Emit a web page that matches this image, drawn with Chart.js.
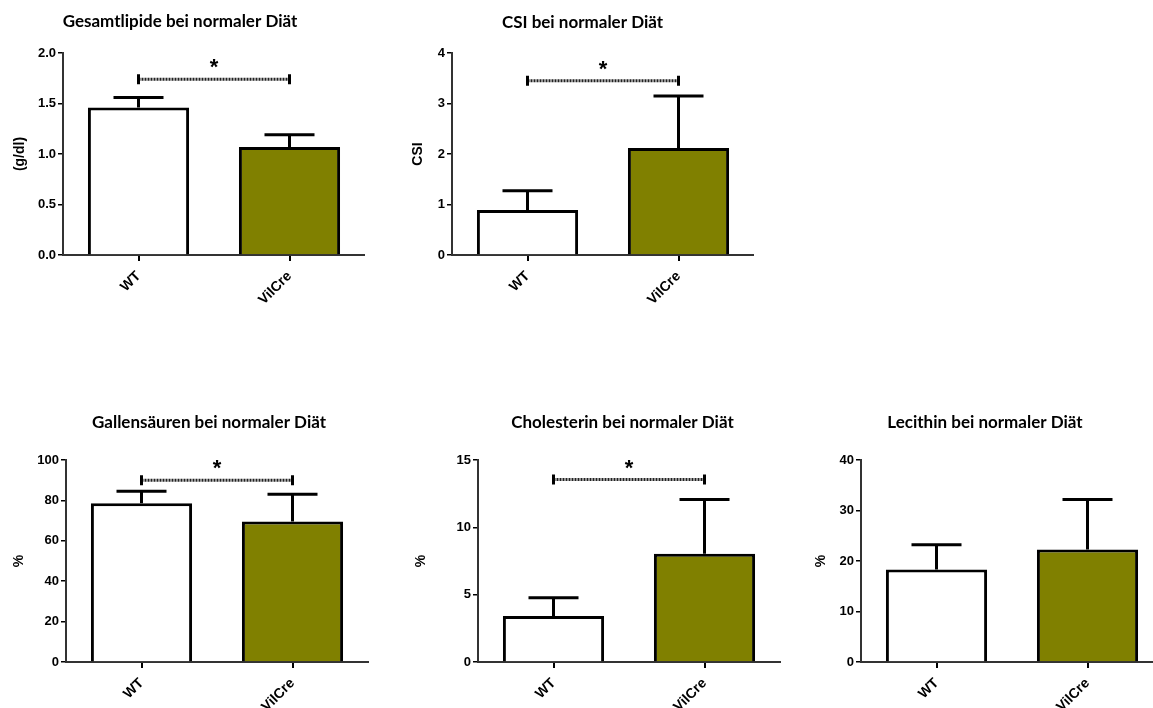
<!DOCTYPE html>
<html>
<head>
<meta charset="utf-8">
<script src="https://cdn.jsdelivr.net/npm/chart.js@4.4.1/dist/chart.umd.min.js"></script>
<style>
  html, body { margin: 0; padding: 0; background: #fff; overflow: hidden; width: 1153px; height: 708px; }
  canvas { position: absolute; }
</style>
</head>
<body>
<script>
// groups and colours shared by every panel
const groups = ['WT', 'VilCre'];
const barColors = ['#ffffff', '#808000'];

// Gesamtlipide (g/dl)
const lipidMean = [1.46, 1.07];
const lipidSem = [0.10, 0.12];
const lipidTicks = ['0.0', '0.5', '1.0', '1.5', '2.0'];
const lipidSig = 1.74;

// CSI
const csiMean = [0.89, 2.12];
const csiSem = [0.38, 1.03];
const csiTicks = ['0', '1', '2', '3', '4'];
const csiSig = 3.45;

// Gallensäuren (%)
const bileMean = [78.6, 69.5];
const bileSem = [5.9, 13.5];
const bileTicks = ['0', '20', '40', '60', '80', '100'];
const bileSig = 90;

// Cholesterin (%)
const cholMean = [3.41, 8.03];
const cholSem = [1.36, 4.03];
const cholTicks = ['0', '5', '10', '15'];
const cholSig = 13.55;

// Lecithin (%)
const lecMean = [18.3, 22.3];
const lecSem = [4.9, 9.9];
const lecTicks = ['0', '10', '20', '30', '40'];
const lecSig = null;

const tickFont = { family: '"Liberation Sans", Arial, sans-serif', size: 13, weight: 'bold' };
const groupFont = { family: '"Liberation Sans", Arial, sans-serif', size: 14, weight: 'bold' };
const axisTitleFont = { family: '"Liberation Sans", Arial, sans-serif', size: 14, weight: 'bold', lineHeight: 1.2 };

// draws the SEM whiskers and the significance bracket with the chart's scales
const errorBarPlugin = {
  id: 'errorBars',
  afterDatasetsDraw(chart, args, opts) {
    const { ctx, scales: { x, y } } = chart;
    const mean = chart.data.datasets[0].data;
    ctx.save();
    ctx.strokeStyle = '#000';
    ctx.lineWidth = 3;
    mean.forEach((m, i) => {
      const cx = x.getPixelForValue(i);
      const y0 = y.getPixelForValue(m);
      const y1 = y.getPixelForValue(m + opts.sem[i]);
      ctx.beginPath();
      ctx.moveTo(cx, y0);
      ctx.lineTo(cx, y1);
      ctx.moveTo(cx - 25, y1);
      ctx.lineTo(cx + 25, y1);
      ctx.stroke();
    });
    if (opts.sig != null) {
      const xa = x.getPixelForValue(0);
      const xb = x.getPixelForValue(1);
      const ys = y.getPixelForValue(opts.sig);
      ctx.strokeStyle = '#222';
      ctx.setLineDash([2, 1]);
      ctx.beginPath();
      ctx.moveTo(xa, ys);
      ctx.lineTo(xb, ys);
      ctx.stroke();
      ctx.setLineDash([]);
      ctx.strokeStyle = '#000';
      ctx.beginPath();
      ctx.moveTo(xa, ys - 5);
      ctx.lineTo(xa, ys + 5);
      ctx.moveTo(xb, ys - 5);
      ctx.lineTo(xb, ys + 5);
      ctx.stroke();
      ctx.fillStyle = '#000';
      ctx.font = 'bold 22px "Liberation Sans", Arial, sans-serif';
      ctx.textAlign = 'center';
      ctx.textBaseline = 'alphabetic';
      ctx.fillText('*', (xa + xb) / 2, ys - 5);
    }
    ctx.restore();
  }
};

// canvas placement for each panel (spacer = empty right axis that shifts the centred title)
const panels = [
  { title: 'Gesamtlipide bei normaler Diät', yTitle: '(g/dl)', mean: lipidMean, sem: lipidSem, ticks: lipidTicks, sig: lipidSig,
    x: -5, y: 0, w: 370, h: 310, padLeft: 0, yWidth: 68, spacer: 0, yTitlePad: 16.6, titleTop: 11.8, titleBottom: 20.8, xHeight: 55 },
  { title: 'CSI bei normaler Diät', yTitle: 'CSI', mean: csiMean, sem: csiSem, ticks: csiTicks, sig: csiSig,
    x: 405, y: 0, w: 349, h: 310, padLeft: 6, yWidth: 41, spacer: 0, yTitlePad: -1.4, titleTop: 12.8, titleBottom: 19.8, xHeight: 55 },
  { title: 'Gallensäuren bei normaler Diät', yTitle: '%', mean: bileMean, sem: bileSem, ticks: bileTicks, sig: bileSig,
    x: 0, y: 400, w: 388, h: 308, padLeft: 30, yWidth: 36, spacer: 20, yTitlePad: -19.4, titleTop: 12.8, titleBottom: 26.8, xHeight: 46 },
  { title: 'Cholesterin bei normaler Diät', yTitle: '%', mean: cholMean, sem: cholSem, ticks: cholTicks, sig: cholSig,
    x: 405, y: 400, w: 390, h: 308, padLeft: 45, yWidth: 28, spacer: 15, yTitlePad: -37.4, titleTop: 12.8, titleBottom: 26.8, xHeight: 46 },
  { title: 'Lecithin bei normaler Diät', yTitle: '%', mean: lecMean, sem: lecSem, ticks: lecTicks, sig: lecSig,
    x: 800, y: 400, w: 363, h: 308, padLeft: 7, yWidth: 54, spacer: 0, yTitlePad: 5.6, titleTop: 12.8, titleBottom: 26.8, xHeight: 46 }
];

function makeChart(p) {
  const cv = document.createElement('canvas');
  cv.width = p.w;
  cv.height = p.h;
  cv.style.left = p.x + 'px';
  cv.style.top = p.y + 'px';
  document.body.appendChild(cv);
  const tickValues = p.ticks.map(Number);

  return new Chart(cv, {
    type: 'bar',
    data: {
      labels: groups,
      datasets: [{
        data: p.mean,
        backgroundColor: barColors,
        borderColor: '#000',
        borderWidth: 3,
        barPercentage: 0.67,
        categoryPercentage: 1
      }]
    },
    options: {
      responsive: false,
      animation: false,
      layout: { padding: { left: p.padLeft, right: 0, top: 0, bottom: 0 } },
      plugins: {
        legend: { display: false },
        tooltip: { enabled: false },
        title: {
          display: true,
          text: p.title,
          color: '#000',
          font: { family: 'Lato, sans-serif', size: 17, weight: 'bold', lineHeight: 1.2 },
          padding: { top: p.titleTop, bottom: p.titleBottom }
        },
        errorBars: { sem: p.sem, sig: p.sig }
      },
      scales: {
        x: {
          grid: { display: true, offset: false, drawOnChartArea: false, color: '#000', lineWidth: 2, tickLength: 6 },
          border: { display: true, color: '#333', width: 2, dash: [2, 1] },
          ticks: { color: '#000', font: groupFont, minRotation: 45, maxRotation: 45, autoSkip: false, padding: 7 },
          afterFit: s => { s.height = p.xHeight; }
        },
        y: {
          min: tickValues[0],
          max: tickValues[tickValues.length - 1],
          afterBuildTicks: s => { s.ticks = tickValues.map(v => ({ value: v })); },
          grid: { display: true, drawOnChartArea: false, color: '#000', lineWidth: 1.5, tickLength: 5 },
          border: { display: true, color: '#333', width: 2, dash: [2, 1] },
          ticks: { color: '#000', font: tickFont, padding: 2, callback: (v, i) => p.ticks[i] },
          title: {
            display: true,
            text: p.yTitle,
            color: '#000',
            font: axisTitleFont,
            padding: { top: p.yTitlePad, bottom: 0 }
          },
          afterFit: s => { s.width = p.yWidth; }
        },
        spacer: {
          type: 'linear',
          position: 'right',
          display: p.spacer > 0,
          grid: { display: false },
          border: { display: false },
          ticks: { display: false },
          afterFit: s => { s.width = p.spacer; }
        }
      }
    },
    plugins: [errorBarPlugin]
  });
}

panels.forEach(makeChart);
</script>
</body>
</html>
